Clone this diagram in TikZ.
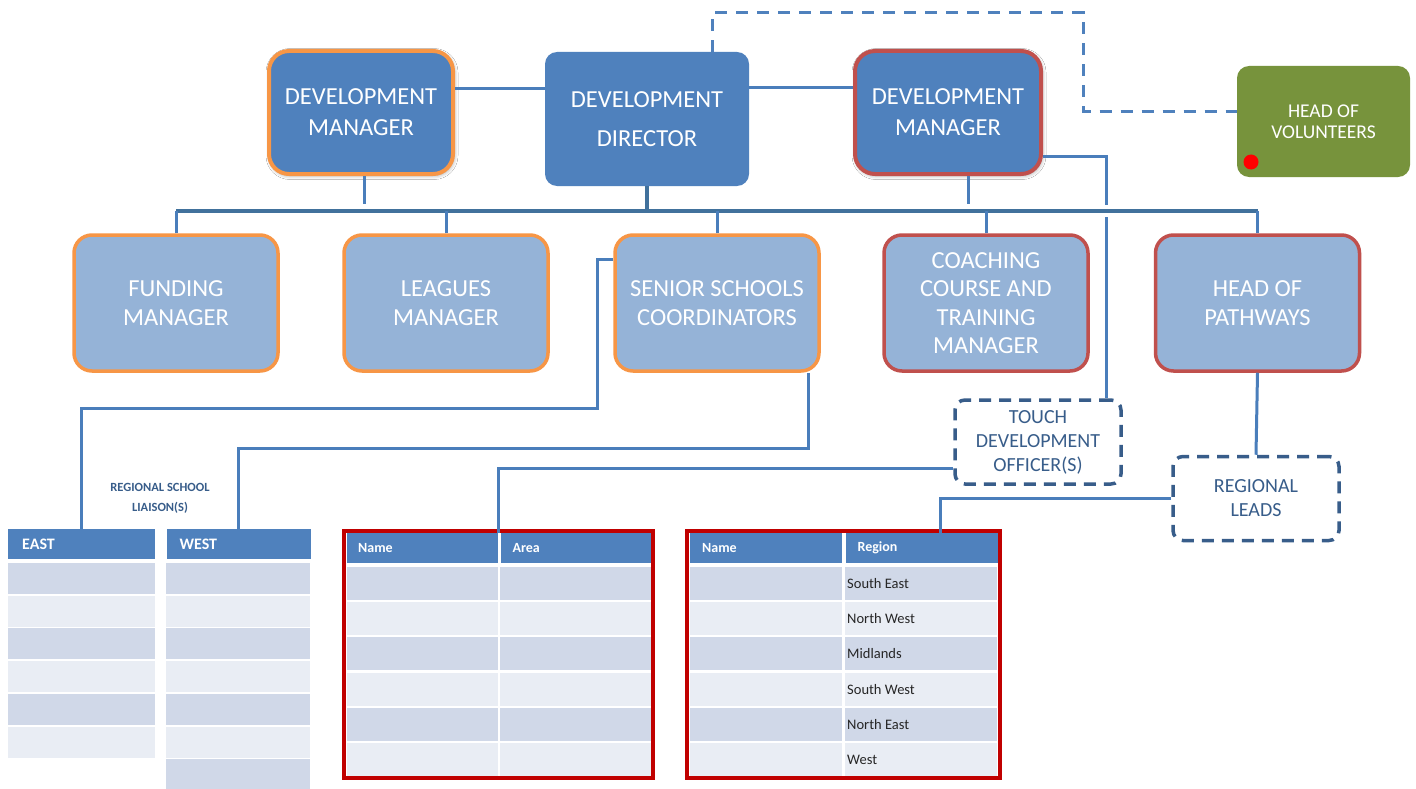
\documentclass[tikz,border=0pt]{standalone}
\usepackage{fontspec}
\setmainfont{Carlito}
\usetikzlibrary{positioning,shadows.blur}

\definecolor{devblue}{HTML}{4F81BD}
\definecolor{paleblue}{HTML}{95B3D7}
\definecolor{accorange}{HTML}{F79646}
\definecolor{accred}{HTML}{C0504D}
\definecolor{volgreen}{HTML}{77933C}
\definecolor{tabred}{HTML}{C00000}
\definecolor{linkblue}{HTML}{4A7EBB}
\definecolor{busblue}{HTML}{41719C}
\definecolor{dashblue}{HTML}{385D8A}
\definecolor{rowdark}{HTML}{D0D8E8}
\definecolor{rowlight}{HTML}{E9EDF4}

\tikzset{
  basic/.style      = {rectangle, align=center, text=white},
  top manager/.style = {basic, draw, line width=4pt, rounded corners=20pt,
                   fill=devblue, minimum width=184pt, minimum height=123pt,
                   font=\fontsize{24.5}{31}\selectfont,
                   blur shadow={shadow xshift=1pt, shadow yshift=-1.5pt, shadow blur radius=4pt}},
  director/.style   = {basic, rounded corners=12pt, fill=devblue,
                   minimum width=204pt, minimum height=134pt,
                   font=\fontsize{24.5}{39}\selectfont},
  level 2/.style    = {basic, draw, line width=3.5pt, rounded corners=18pt,
                   fill=paleblue, minimum width=204pt, minimum height=136pt,
                   font=\fontsize{24.5}{28.5}\selectfont},
  volunteers/.style = {basic, rounded corners=12pt, fill=volgreen,
                   minimum width=173pt, minimum height=111pt,
                   font=\fontsize{19.5}{21}\selectfont},
  dashed box/.style = {rectangle, align=center, draw=dashblue, text=dashblue,
                   line width=3.5pt, dash pattern=on 12pt off 8pt,
                   rounded corners=10pt, minimum width=166pt, minimum height=84pt,
                   font=\fontsize{20}{24}\selectfont},
  head cell/.style  = {rectangle, fill=devblue, text=white, anchor=north west,
                   align=left, minimum height=30pt, inner ysep=0pt,
                   font=\bfseries\fontsize{14}{16}\selectfont},
  region text/.style = {anchor=west, inner sep=0pt, text=black!85,
                   font=\fontsize{14.5}{16}\selectfont},
  link/.style       = {draw=linkblue, line width=3pt},
  bus/.style        = {draw=busblue, line width=3.5pt},
  dash link/.style  = {draw=devblue, line width=3pt, dash pattern=on 12pt off 9pt},
  tabframe/.style   = {draw=tabred, line width=4pt}
}

\begin{document}
\begin{tikzpicture}[x=1pt, y=-1pt]
\useasboundingbox[fill=white] (0,0) rectangle (1416,789);

% top row
\node[top manager, draw=accorange] (dml) at (361,112.5) {DEVELOPMENT\\MANAGER};
\node[director] (dir) at (647,119) {DEVELOPMENT\\DIRECTOR};
\node[top manager, draw=accred, minimum width=186pt] (dmr) at (948,112.5) {DEVELOPMENT\\MANAGER};
\node[volunteers] (hov) at (1323.5,121.5) {HEAD OF\\VOLUNTEERS};
\node[circle, fill=red, minimum size=15pt, inner sep=0pt] (hovdot) at (1251,162) {};

% second row
\node[level 2, draw=accorange] (fund)  at (176,303)    {FUNDING\\MANAGER};
\node[level 2, draw=accorange] (leag)  at (446,303)    {LEAGUES\\MANAGER};
\node[level 2, draw=accorange] (ssc)   at (717,303)    {SENIOR SCHOOLS\\COORDINATORS};
\node[level 2, draw=accred]    (coach) at (986,303)    {COACHING\\COURSE AND\\TRAINING\\MANAGER};
\node[level 2, draw=accred]    (path)  at (1257.5,303) {HEAD OF\\PATHWAYS};

% dashed posts
\node[dashed box] (tdo)   at (1038,442)   {TOUCH\\DEVELOPMENT\\OFFICER(S)};
\node[dashed box] (leads) at (1256,498.5) {REGIONAL\\LEADS};

% regional school liaison lists
\node[text=dashblue, align=center, font=\bfseries\fontsize{12.5}{20}\selectfont]
  (rsl) at (160,498) {REGIONAL SCHOOL\\LIAISON(S)};
\node[head cell, text width=119pt, inner xsep=14pt, font=\bfseries\fontsize{16}{18}\selectfont] (east) at (8,529) {EAST};
\node[head cell, text width=118pt, inner xsep=13pt, font=\bfseries\fontsize{16}{18}\selectfont, right=11pt of east] (west) {WEST};
\foreach \i [evaluate=\i as \ytop using 563+32.7*\i] in {0,...,6} {
  \ifodd\i \def\rowcol{rowlight}\else\def\rowcol{rowdark}\fi
  \ifnum\i<6 \fill[\rowcol] (8,\ytop) rectangle ++(147,31);\fi
  \fill[\rowcol] (166,\ytop) rectangle ++(144,31);
}

% officers and regions tables
\node[head cell, text width=129pt, inner xsep=11pt] (aname) at (347,533) {Name};
\node[head cell, text width=127pt, inner xsep=12pt, right=2pt of aname] (aarea) {Area};
\node[head cell, text width=128pt, inner xsep=12pt] (rname) at (690,533) {Name};
\node[head cell, text width=128pt, inner xsep=12pt, right=3pt of rname] (rreg) {Region};
\foreach \i [evaluate=\i as \ytop using 567+35.2*\i] in {0,...,5} {
  \ifodd\i \def\rowcol{rowlight}\else\def\rowcol{rowdark}\fi
  \fill[\rowcol] (347,\ytop) rectangle ++(151,33);
  \fill[\rowcol] (500,\ytop) rectangle ++(151,33);
  \fill[\rowcol] (690,\ytop) rectangle ++(152,33);
  \fill[\rowcol] (845,\ytop) rectangle ++(152,33);
}
\foreach \reg [count=\n from 0] in {South East, North West, Midlands, South West, North East, West}
  \node[region text] (reg\n) at (847,{583.5+35.2*\n}) {\reg};
\draw[tabframe] (344,531) rectangle (653,778);
\draw[tabframe] (687,531) rectangle (1000,778);

% links along the top
\draw[link] ([yshift=24pt]dml.east) -- ([yshift=24pt]dml.east -| dir.west);
\draw[link] ([yshift=31pt]dir.east) -- ([yshift=31pt]dir.east -| dmr.west);
\draw[dash link] ([xshift=-37pt]dir.north east) -- ++(0,-39)
  -| ([xshift=-153pt,yshift=10pt]hov.west) -- ([yshift=10pt]hov.west);

% managers down to the bus
\coordinate (busL) at (176,211);
\coordinate (busR) at (1257.5,211);
\coordinate (tdoin) at ([xshift=-16pt]tdo.north east);
\draw[link] ([xshift=3pt]dml.south) -- ++(0,28);
\draw[link] ([xshift=20pt]dmr.south) -- ++(0,28);
\draw[link] ([yshift=-44pt]dmr.east) -| (tdoin);
\draw[white, line width=6pt] (tdoin |- busL) ++(0,-6) -- ++(0,12);
\draw[bus] (dir.south) -- (dir.south |- busL);
\draw[bus] (busL) -- (busR);
\foreach \n in {fund,leag,ssc,coach,path}
  \draw[link] (\n.north) -- (\n.north |- busL);

% lower links
\draw[link] ([yshift=44pt]ssc.west) -- ++(-16,0) -- ++(0,149) -| (east.north);
\draw[link] ([xshift=-12pt]ssc.south east) -- ++(0,76) -| (west.north);
\draw[link] ([yshift=-26pt]tdo.west) -| (aname.north east);
\draw[link] (leads.west) -| ([xshift=95pt]rreg.north west);
\draw[link] (path.south) -- (leads.north);
\end{tikzpicture}
\end{document}
